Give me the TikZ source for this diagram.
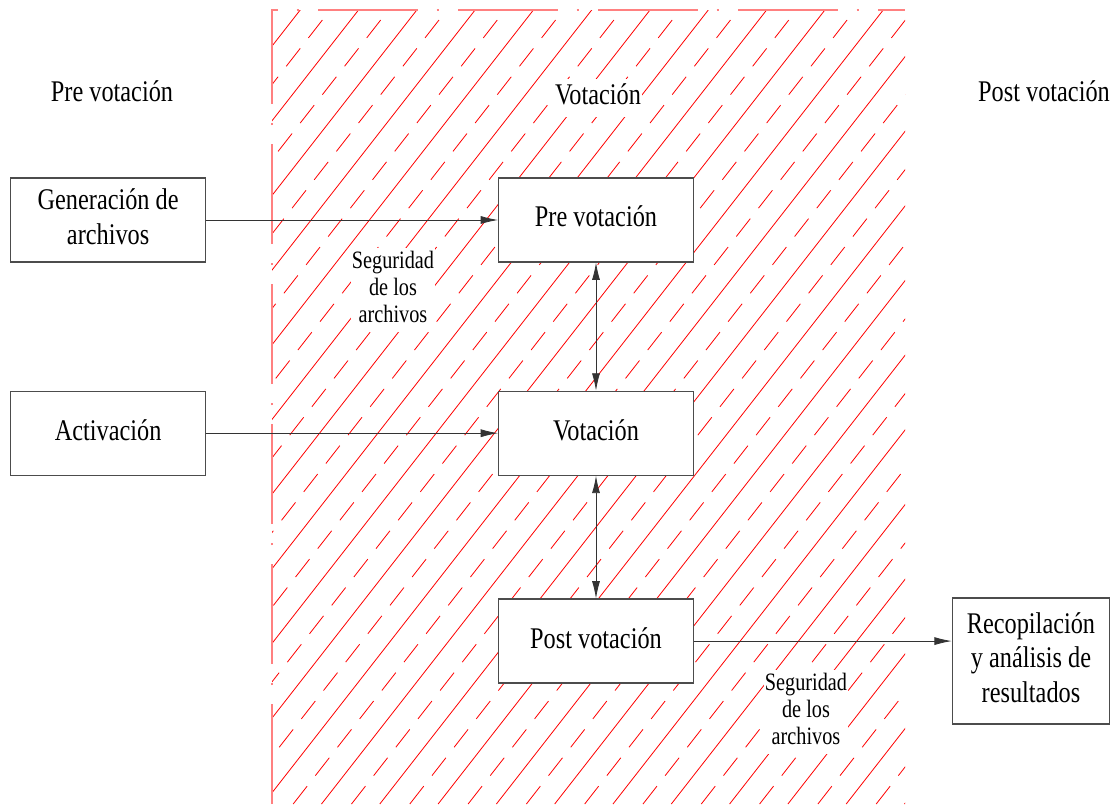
\documentclass[tikz,border=0pt]{standalone}
\usepackage{fontspec}
\setmainfont{LiberationSerif}[Extension=.ttf, UprightFont=*-Regular, BoldFont=*-Bold]
\usetikzlibrary{arrows.meta,positioning}
\newcommand{\narrow}[1]{\scalebox{0.81}[1]{\begin{tabular}{@{}c@{}}#1\end{tabular}}}
\tikzset{
  stage/.style={
    draw=black!70,
    line width=0.9pt,
    fill=white,
    font=\fontsize{22.5}{26}\selectfont,
    minimum width=146pt,
    minimum height=63pt,
    inner sep=2pt
  },
  phase/.style={font=\fontsize{22.5}{26}\selectfont, inner sep=1pt},
  note/.style={
    fill=white,
    font=\fontsize{18.75}{20.3}\selectfont,
    inner sep=1pt
  },
  flow/.style={-{Latex[length=13pt,width=6pt]}, line width=0.6pt, draw=black!80},
  twoway/.style={{Latex[length=13pt,width=6pt]}-{Latex[length=13pt,width=6pt]}, line width=0.6pt, draw=black!80},
  hatch/.style={red, line width=0.6pt},
  rim/.style={red!50, line width=1.5pt, dash pattern=on 75pt off 14pt on 2pt off 14pt}
}

\begin{document}
\begin{tikzpicture}[x=0.75pt, y=-0.75pt, node distance=96pt and 219pt]
  \useasboundingbox (0,0) rectangle (1111,804);

  % zona rayada de la votacion
  \begin{scope}
    \clip (272,10) rectangle (905,804);
    \foreach \k in {-17,...,5} {
      \draw[hatch] ({613+58.3*\k},804) -- ++(620,-794);
      \draw[hatch, dash pattern=on 17pt off 10pt] ({643+58.3*\k},804) -- ++(620,-794);
    }
  \end{scope}
  \draw[rim] (272,804) -- (272,10) -- (905,10);

  % etapas
  \node[phase] (tpre) at (112,95) {\narrow{Pre votación}};
  \node[phase, fill=white] (tvote) at (598,98) {\narrow{Votación}};
  \node[phase] (tpost) at (1044,95) {\narrow{Post votación}};

  \node[stage] (pre) at (596,220) {\narrow{Pre votación}};
  \node[stage, below=of pre] (vote) {\narrow{Votación}};
  \node[stage, below=92pt of vote] (post) {\narrow{Post votación}};
  \node[stage, left=of pre] (gen) {\narrow{Generación de\\archivos}};
  \node[stage, left=of vote] (act) {\narrow{Activación}};
  \node[stage, minimum width=118pt, minimum height=94.5pt] (res) at (1031,661) {\narrow{Recopilación\\y análisis de\\resultados}};

  \node[note] (sec1) at (393,290) {\narrow{Seguridad\\de los\\archivos}};
  \node[note] (sec2) at (806,712) {\narrow{Seguridad\\de los\\archivos}};

  \draw[flow] (gen) -- (pre);
  \draw[flow] (act) -- (vote);
  \draw[twoway] (pre) -- (vote);
  \draw[twoway] (vote) -- (post);
  \draw[flow] (post.east) -- (post.east -| res.west);
\end{tikzpicture}
\end{document}
